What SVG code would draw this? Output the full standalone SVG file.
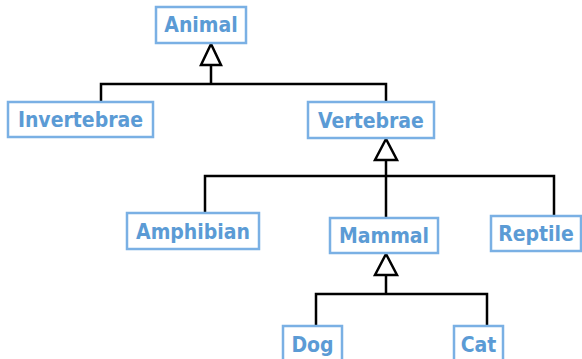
<svg xmlns="http://www.w3.org/2000/svg" width="582" height="359" viewBox="0 0 582 359">
<style>
.box{fill:#fff;stroke:#7ab0e4;stroke-width:2.5}
.lbl{font-family:"DejaVu Sans Condensed","DejaVu Sans",sans-serif;font-stretch:condensed;font-weight:bold;font-size:21px;fill:#5b9bd5;text-anchor:middle}
.ln{fill:none;stroke:#000;stroke-width:2.5}
.tri{fill:#fff;stroke:#000;stroke-width:2.5;stroke-linejoin:miter}
</style>
<rect width="582" height="359" fill="#fff"/>
<g id="connectors">
<path class="ln" d="M211 65 V84 M101 102 V84 H386 V102"/>
<polygon class="tri" points="211,44 201,65 221,65"/>
<path class="ln" d="M386 160 V218 M205 213 V176 H554 V216"/>
<polygon class="tri" points="386,139 375,160 397,160"/>
<path class="ln" d="M386 275 V294 M316 326 V294 H487 V326"/>
<polygon class="tri" points="386,254 375,275 397,275"/>
</g>
<g id="animal"><rect class="box" x="156" y="7" width="90" height="36"/><text class="lbl" x="201" y="32">Animal</text></g>
<g id="invertebrae"><rect class="box" x="8" y="102" width="145" height="35"/><text class="lbl" x="80.5" y="127">Invertebrae</text></g>
<g id="vertebrae"><rect class="box" x="308" y="102" width="126" height="36"/><text class="lbl" x="371" y="127.5">Vertebrae</text></g>
<g id="amphibian"><rect class="box" x="127" y="213" width="132" height="36"/><text class="lbl" x="193" y="238.5">Amphibian</text></g>
<g id="mammal"><rect class="box" x="330" y="218" width="108" height="35"/><text class="lbl" x="384" y="243">Mammal</text></g>
<g id="reptile"><rect class="box" x="491" y="216" width="90" height="35"/><text class="lbl" x="536" y="241">Reptile</text></g>
<g id="dog"><rect class="box" x="283" y="326" width="59" height="36"/><text class="lbl" x="312.5" y="351.5">Dog</text></g>
<g id="cat"><rect class="box" x="454" y="326" width="49" height="36"/><text class="lbl" x="478.5" y="351.5">Cat</text></g>
</svg>
